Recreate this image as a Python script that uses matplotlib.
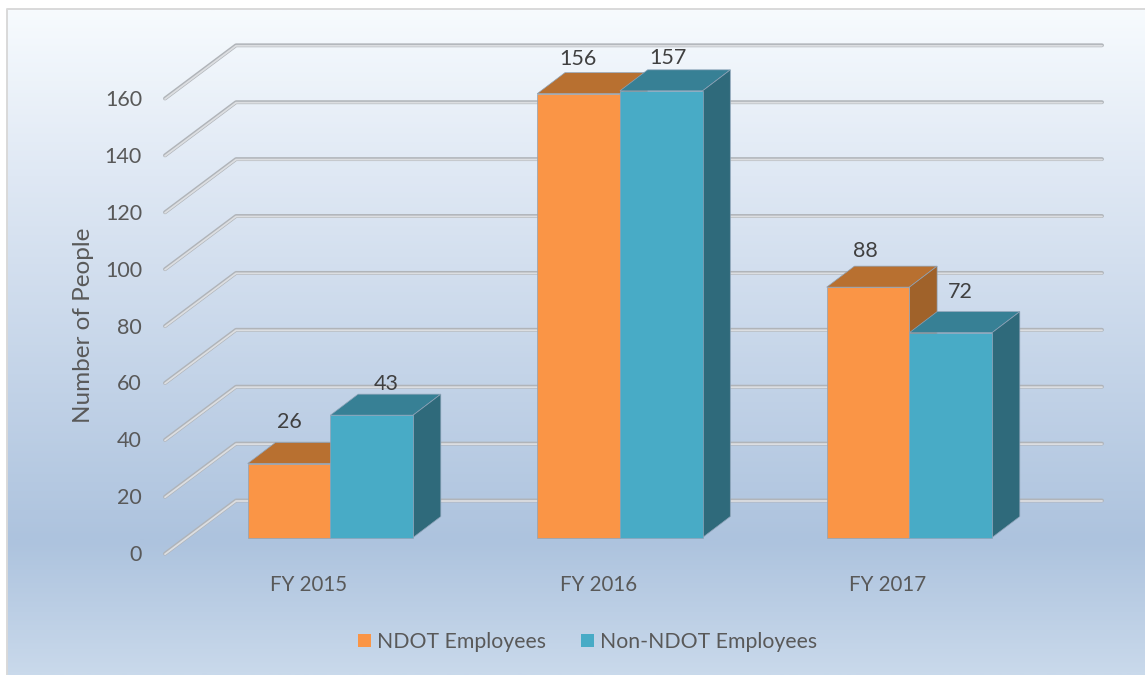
import numpy as np
import matplotlib
matplotlib.use("Agg")
import matplotlib.pyplot as plt
from matplotlib.colors import LinearSegmentedColormap
from matplotlib.patches import Polygon, Rectangle, Patch

# ---- data ----
categories = ["FY 2015", "FY 2016", "FY 2017"]
ndot = [26, 156, 88]
non_ndot = [43, 157, 72]
series_names = ["NDOT Employees", "Non-NDOT Employees"]
y_ticks = [0, 20, 40, 60, 80, 100, 120, 140, 160]
y_title = "Number of People"

# ---- layout (pixels) ----
W, H = 1145, 675
PX_PER_UNIT = 2.845
FRONT_X, FRONT_Y0 = 165, 553.7
BACK_X, BACK_Y0 = 236, 500.5
GRID_RIGHT = 1102
BAR_BASE = 537.5
BAR_W = 82.7
FIRST_LEFT, CAT_STEP = 247.7, 289.5
DX, DY = 27.7, 21
label_off = {0: [(0, -42), (15, -31)], 1: [(-1, -35), (7, -33)], 2: [(-3, -36), (10, -41)]}

plt.rcParams["font.family"] = ["Lato", "DejaVu Sans"]
fig = plt.figure(figsize=(W / 100, H / 100), dpi=100, facecolor="white")
ax = fig.add_axes([0, 0, 1, 1])
ax.set_xlim(0, W)
ax.set_ylim(H, 0)
ax.axis("off")

# background gradient
stops = [(0.0, "#f7fbfe"), (0.25, "#dfe8f4"), (0.80, "#adc3de"), (1.0, "#c9d9eb")]
cmap = LinearSegmentedColormap.from_list("bg", stops)
L, T, R, B = 7, 9, W, H
ax.imshow(np.linspace(0, 1, 400).reshape(-1, 1), cmap=cmap, aspect="auto",
          extent=(L, R, B, T), zorder=0)
ax.set_xlim(0, W)
ax.set_ylim(H, 0)
ax.plot([L, L, R], [B, T, T], color="#d9d9d9", lw=1.4, zorder=1)

# gridlines
for v in y_ticks:
    yf = FRONT_Y0 - v * PX_PER_UNIT
    yb = BACK_Y0 - v * PX_PER_UNIT
    xs = [FRONT_X, BACK_X, GRID_RIGHT]
    ys = [yf, yb, yb]
    ax.plot(xs, ys, color="#b0b4b9", lw=2.8, solid_capstyle="round",
            solid_joinstyle="round", zorder=2)
    ax.plot(xs, [y + 0.5 for y in ys], color="#dcdee1", lw=1.3,
            solid_capstyle="round", solid_joinstyle="round", zorder=3)
    ax.text(142, yf + 1.5, str(v), ha="right", va="center", fontsize=15.5, color="#595959")

# bars
palette = [("#fa9546", "#b87030", "#a0622a"), ("#48abc6", "#378095", "#2f6a7b")]
edge = "#8ea3b8"

def draw_bar(left, value, colors, z):
    front, top, side = colors
    ytop = BAR_BASE - value * PX_PER_UNIT
    right = left + BAR_W
    ax.add_patch(Polygon([(left, ytop), (right, ytop), (right + DX, ytop - DY), (left + DX, ytop - DY)],
                         fc=top, ec=edge, lw=0.5, zorder=z))
    ax.add_patch(Polygon([(right, ytop), (right + DX, ytop - DY), (right + DX, BAR_BASE - DY), (right, BAR_BASE)],
                         fc=side, ec=edge, lw=0.5, zorder=z))
    ax.add_patch(Rectangle((left, ytop), BAR_W, value * PX_PER_UNIT, fc=front, ec=edge, lw=0.5, zorder=z + 0.1))
    return ytop

for i, cat in enumerate(categories):
    left = FIRST_LEFT + i * CAT_STEP
    for j, vals in enumerate((ndot, non_ndot)):
        bar_left = left + j * BAR_W
        ytop = draw_bar(bar_left, vals[i], palette[j], 5 + j)
        ox, oy = label_off[i][j]
        ax.text(bar_left + BAR_W / 2 + ox, ytop + oy, str(vals[i]), ha="center", va="center",
                fontsize=15.5, color="#404040", zorder=10)
    ax.text(left + 61, 585, cat, ha="center", va="center", fontsize=14.8, color="#595959")

ax.text(83, 325, y_title, rotation=90, ha="center", va="center", fontsize=17.5, color="#595959")

handles = [Patch(fc=palette[0][0], ec="none"), Patch(fc=palette[1][0], ec="none")]
ax.legend(handles, series_names, loc="center", bbox_to_anchor=(587.5, 642),
          bbox_transform=ax.transData, ncol=2, frameon=False, fontsize=15.3,
          labelcolor="#595959", handlelength=0.6, handleheight=0.6,
          handletextpad=0.3, columnspacing=1.65, borderpad=0)

fig.savefig("out.png", dpi=100)
